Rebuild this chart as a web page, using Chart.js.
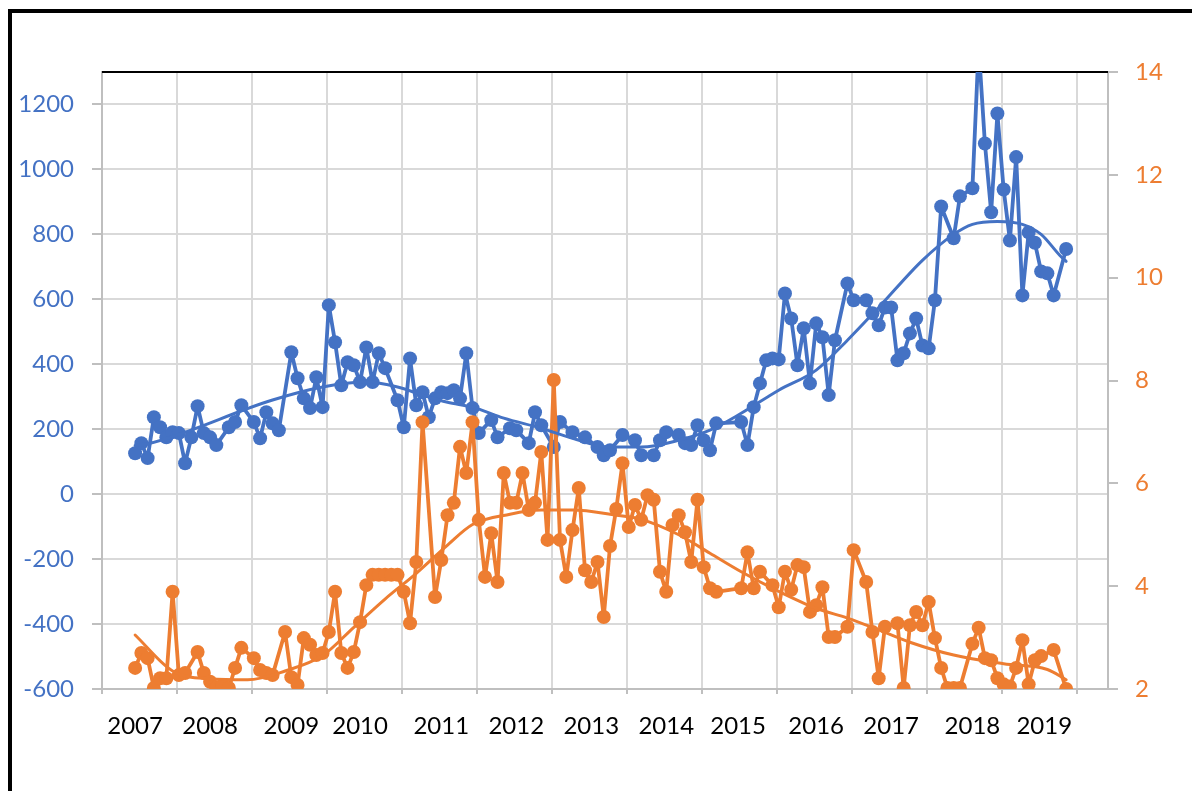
<!DOCTYPE html>
<html><head><meta charset="utf-8">
<script src="https://cdn.jsdelivr.net/npm/chart.js@4"></script>
<style>html,body{margin:0;padding:0;background:#fff;}#wrap{width:1192px;height:791px;position:relative;}</style>
</head><body><div id="wrap"><canvas id="c" width="1192" height="791"></canvas></div>
<script>
// ---- data ----
const yearLabels = ['2007','2008','2009','2010','2011','2012','2013','2014','2015','2016','2017','2018','2019'];
const yearTickMonths = [0,12,25,36,49,61,73,85,96.5,109,121,134,145.5];
const leftTicks = [-600,-400,-200,0,200,400,600,800,1000,1200];
const rightTicks = [2,4,6,8,10,12,14];

const blueMonths = [0,1,2,3,4,5,6,7,8,9,10,11,12,13,15,16,17,19,20,21,22,23,25,26,27,28,29,30,31,32,33,34,35,36,37,38,39,40,42,43,44,45,46,47,48,49,50,51,52,53,54,55,57,58,60,61,63,64,65,67,68,70,72,74,75,76,78,80,81,83,84,85,87,88,89,90,91,92,93,97,98,99,100,101,102,103,104,105,106,107,108,109,110,111,112,114,115,117,118,119,120,121,122,123,124,125,126,127,128,129,131,132,134,135,136,137,138,139,140,141,142,143,144,145,146,147,149];
const blueValues = [126,157,111,237,206,175,191,188,95,175,271,188,175,151,206,222,274,222,172,252,218,197,437,357,295,265,360,268,582,468,335,406,397,345,452,345,434,388,289,206,418,274,314,237,295,314,311,320,295,434,265,188,228,175,203,197,157,252,212,145,222,191,175,145,120,135,182,166,120,120,166,191,182,157,151,212,166,135,218,222,151,268,341,412,418,415,618,541,397,511,341,526,483,305,474,649,597,597,557,520,575,575,412,434,495,541,458,449,597,886,788,917,942,1380,1080,868,1172,938,781,1038,612,806,774,686,680,612,755];

const orangeMonths = [0,1,2,3,4,5,6,7,8,10,11,12,13,14,15,16,17,19,20,21,22,24,25,26,27,28,29,30,31,32,33,34,35,36,37,38,39,40,41,42,43,44,45,46,48,49,50,51,52,53,54,55,56,57,58,59,60,61,62,63,64,65,66,67,68,69,70,71,72,73,74,75,76,77,78,79,80,81,82,83,84,85,86,87,88,89,90,91,92,93,97,98,99,100,102,103,104,105,106,107,108,109,110,111,112,114,115,117,118,119,120,122,123,124,125,126,127,128,129,130,131,132,134,135,136,137,138,139,140,141,142,143,144,145,147,149];
const orangeValues = [2.41,2.70,2.60,2.02,2.21,2.21,3.89,2.27,2.31,2.72,2.31,2.14,2.02,2.08,2.02,2.41,2.80,2.60,2.37,2.31,2.27,3.11,2.23,2.08,2.99,2.86,2.66,2.70,3.11,3.89,2.70,2.41,2.72,3.30,4.02,4.22,4.22,4.22,4.22,4.22,3.89,3.28,4.47,7.19,3.79,4.51,5.38,5.62,6.71,6.20,7.19,5.29,4.18,5.03,4.08,6.20,5.62,5.62,6.20,5.48,5.62,6.61,4.90,8.01,4.90,4.18,5.09,5.91,4.31,4.08,4.47,3.40,4.78,5.50,6.39,5.15,5.58,5.29,5.77,5.68,4.28,3.89,5.19,5.38,5.05,4.47,5.68,4.37,3.96,3.89,3.96,4.66,3.96,4.28,4.02,3.59,4.28,3.93,4.41,4.37,3.50,3.63,3.98,3.01,3.01,3.21,4.70,4.08,3.11,2.21,3.21,3.28,2.02,3.24,3.50,3.24,3.69,2.99,2.41,2.02,2.02,2.02,2.88,3.19,2.60,2.56,2.21,2.09,2.05,2.41,2.95,2.09,2.56,2.64,2.76,2.00];

const blueTrendMonths = [0,2,22,30,37,42,46,50,54,59,65,70,76,81,87,92,97,103,109,114,119,126,131,134,138,142,145,148,149];
const blueTrendValues = [150,155,290,330,345,330,305,283,268,234,203,172,145,145,166,197,249,320,382,474,575,720,800,831,840,831,800,735,717];
const orangeTrendMonths = [0,6,12,18,24,30,35,40,45,50,54,60,65,70,77,81,87,92,97,103,109,114,119,124,131,139,146,149];
const orangeTrendValues = [3.05,2.35,2.2,2.18,2.35,2.65,3.2,3.75,4.25,4.8,5.2,5.4,5.48,5.48,5.38,5.3,5.0,4.64,4.28,3.9,3.57,3.38,3.15,2.91,2.66,2.49,2.38,2.18];

// ---- styling / axis setup ----
const BLUE = '#4472c4', ORANGE = '#ed7d31';
const X_MIN = -5.3, X_MAX = 155.7, GRID_STEP = 12;
const gridTicks = [];
for (let k = 0; X_MIN + k * GRID_STEP <= X_MAX; k++) gridTicks.push(X_MIN + k * GRID_STEP);
const allXTicks = gridTicks.concat(yearTickMonths).sort((a, b) => a - b);
const isGrid = v => gridTicks.some(g => Math.abs(g - v) < 1e-6);
const FONT = {family: 'Lato', size: 24};
const toXY = (xs, ys) => xs.map((m, i) => ({x: m, y: ys[i]}));

const framePlugin = {
  id: 'frame',
  beforeDatasetsDraw(chart) {
    const c = chart.ctx, a = chart.chartArea;
    c.save(); c.strokeStyle = '#000'; c.lineWidth = 2;
    c.beginPath(); c.moveTo(a.left, a.top); c.lineTo(a.right, a.top); c.stroke(); c.restore();
  },
  afterDraw(chart) {
    const c = chart.ctx;
    c.save(); c.strokeStyle = '#000'; c.lineWidth = 4;
    c.beginPath(); c.moveTo(10, chart.height + 5); c.lineTo(10, 11); c.lineTo(chart.width + 5, 11); c.stroke(); c.restore();
  }
};

const seriesStyle = color => ({borderColor: color, backgroundColor: color, borderWidth: 3.8, borderJoinStyle: 'round', borderCapStyle: 'round',
  pointRadius: 7, pointBackgroundColor: color, pointBorderColor: color, pointBorderWidth: 0, tension: 0});
const trendStyle = color => ({borderColor: color, borderWidth: 3, pointRadius: 0, cubicInterpolationMode: 'monotone', borderCapStyle: 'round'});

new Chart(document.getElementById('c'), {
  type: 'line',
  data: {
    datasets: [
      Object.assign({data: toXY(blueTrendMonths, blueTrendValues), yAxisID: 'y', order: 1}, trendStyle(BLUE)),
      Object.assign({data: toXY(orangeTrendMonths, orangeTrendValues), yAxisID: 'y2', order: 1}, trendStyle(ORANGE)),
      Object.assign({data: toXY(orangeMonths, orangeValues), yAxisID: 'y2', order: 2}, seriesStyle(ORANGE)),
      Object.assign({data: toXY(blueMonths, blueValues), yAxisID: 'y', order: 3}, seriesStyle(BLUE))
    ]
  },
  options: {
    responsive: false, animation: false, devicePixelRatio: 1,
    layout: {padding: {top: 72, left: 0, right: 0, bottom: 0}},
    plugins: {legend: {display: false}, tooltip: {enabled: false}},
    scales: {
      x: {
        type: 'linear', position: 'bottom', min: X_MIN, max: X_MAX,
        afterBuildTicks: s => { s.ticks = allXTicks.map(v => ({value: v})); },
        afterFit: s => { s.height = 102; },
        ticks: {autoSkip: false, maxRotation: 0, minRotation: 0, padding: 18, color: '#000', font: FONT,
          callback: v => { const i = yearTickMonths.findIndex(t => Math.abs(t - v) < 1e-6); return i >= 0 ? yearLabels[i] : ''; }},
        grid: {lineWidth: 2, tickLength: 5,
          color: ctx => (ctx.tick && isGrid(ctx.tick.value)) ? '#d9d9d9' : 'rgba(0,0,0,0)',
          tickColor: ctx => (ctx.tick && isGrid(ctx.tick.value)) ? '#bfbfbf' : 'rgba(0,0,0,0)'},
        border: {color: '#bfbfbf', width: 2}
      },
      y: {
        type: 'linear', position: 'left', min: -600, max: 1300,
        afterBuildTicks: s => { s.ticks = leftTicks.map(v => ({value: v})); },
        afterFit: s => { s.width = 102; },
        ticks: {color: BLUE, font: FONT, padding: 18, callback: v => String(v)},
        grid: {color: '#d9d9d9', lineWidth: 2, tickLength: 10, tickColor: '#bfbfbf'},
        border: {color: '#bfbfbf', width: 2}
      },
      y2: {
        type: 'linear', position: 'right', min: 2, max: 14,
        afterBuildTicks: s => { s.ticks = rightTicks.map(v => ({value: v})); },
        afterFit: s => { s.width = 84; },
        ticks: {color: ORANGE, font: FONT, padding: 17, callback: v => String(v)},
        grid: {drawOnChartArea: false, lineWidth: 2, tickLength: 10, tickColor: '#bfbfbf'},
        border: {color: '#bfbfbf', width: 2}
      }
    }
  },
  plugins: [framePlugin]
});
</script></body></html>
